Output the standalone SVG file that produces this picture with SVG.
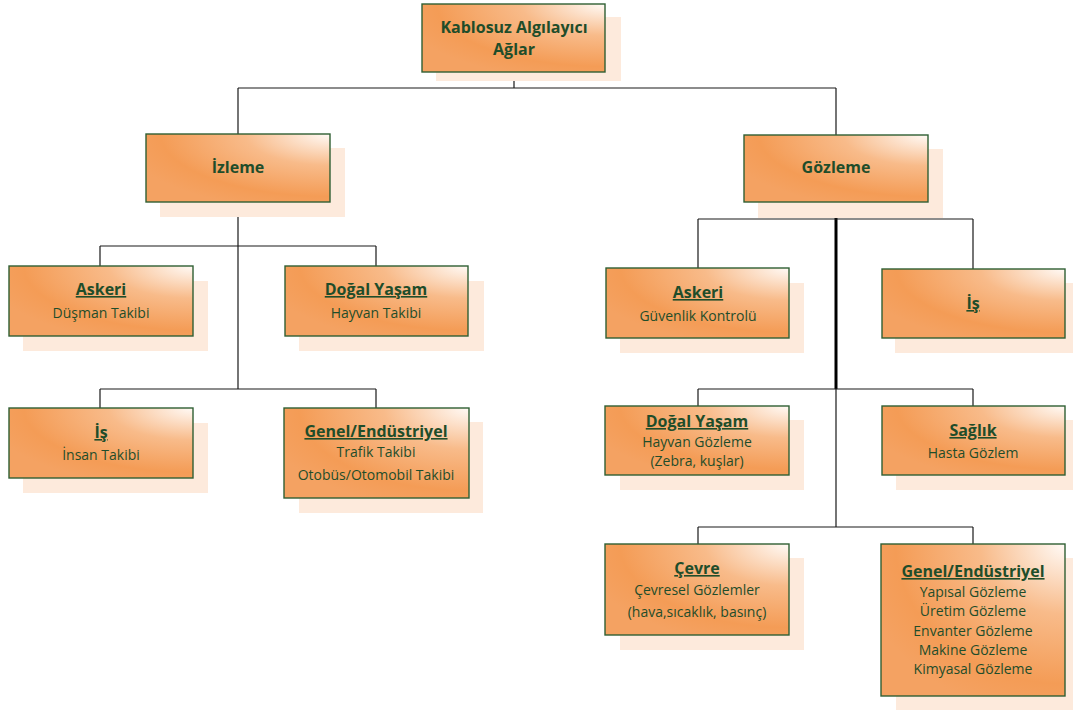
<svg xmlns="http://www.w3.org/2000/svg" width="1073" height="711" viewBox="0 0 1073 711">
  <defs>
    <radialGradient id="fill" cx="1" cy="0" r="1.15" fx="1" fy="0">
      <stop offset="0" stop-color="#fffaf6"/>
      <stop offset="0.4" stop-color="#f8bb8a"/>
      <stop offset="0.8" stop-color="#f49c56"/>
      <stop offset="1" stop-color="#f4a262"/>
    </radialGradient>
    <style>
      .shadow { fill: #fdeadc; }
      .box { fill: url(#fill); stroke: #2f5f33; stroke-width: 1.4; }
      .t { font-family: "Open Sans", "Liberation Sans", sans-serif; fill: #1f4d2a; text-anchor: middle; }
      .h { font-size: 16px; font-weight: bold; }
      .u { text-decoration: underline; }
      .s { font-size: 14px; }
      .wire { stroke: #1a1a1a; stroke-width: 1.2; fill: none; }
      .thick { stroke: #000; stroke-width: 3; fill: none; }
    </style>
  </defs>
  <rect width="1073" height="711" fill="#ffffff"/>

  <!-- connectors -->
  <g id="connectors">
    <path class="wire" d="M514,72 V88 M238,88 H836 M238,88 V134 M836,88 V135"/>
    <path class="wire" d="M238,202 V389 M100,246 H376 M100,246 V266 M376,246 V266 M100,389 H376 M100,389 V408 M376,389 V408"/>
    <path class="thick" d="M836,202 V389"/>
    <path class="wire" d="M698,219 H973 M698,219 V268 M973,219 V269"/>
    <path class="wire" d="M698,389 H973 M698,389 V406 M973,389 V406 M836,389 V527 M698,527 H973 M698,527 V544 M973,527 V544"/>
  </g>

  <g id="root">
    <rect class="shadow" x="436" y="17" width="185" height="64"/>
    <rect class="box" x="422" y="4" width="183" height="68"/>
    <text class="t h" x="514" y="33">Kablosuz Algılayıcı</text>
    <text class="t h" x="514" y="55">Ağlar</text>
  </g>

  <g id="izleme">
    <rect class="shadow" x="160" y="148" width="185" height="69"/>
    <rect class="box" x="146" y="134" width="184" height="68"/>
    <text class="t h" x="238" y="173">İzleme</text>
  </g>

  <g id="gozleme">
    <rect class="shadow" x="758" y="149" width="185" height="69"/>
    <rect class="box" x="744" y="135" width="184" height="67"/>
    <text class="t h" x="836" y="173">Gözleme</text>
  </g>

  <g id="izleme-askeri">
    <rect class="shadow" x="23" y="281" width="185" height="70"/>
    <rect class="box" x="9" y="266" width="184" height="70"/>
    <text class="t h u" x="101" y="295">Askeri</text>
    <text class="t s" x="101" y="318">Düşman Takibi</text>
  </g>

  <g id="izleme-dogal-yasam">
    <rect class="shadow" x="299" y="281" width="185" height="70"/>
    <rect class="box" x="285" y="266" width="183" height="70"/>
    <text class="t h u" x="376" y="295">Doğal Yaşam</text>
    <text class="t s" x="376" y="318">Hayvan Takibi</text>
  </g>

  <g id="izleme-is">
    <rect class="shadow" x="23" y="423" width="185" height="70"/>
    <rect class="box" x="9" y="408" width="184" height="70"/>
    <text class="t h u" x="101" y="438">İş</text>
    <text class="t s" x="101" y="460">İnsan Takibi</text>
  </g>

  <g id="izleme-genel">
    <rect class="shadow" x="299" y="422" width="184" height="91"/>
    <rect class="box" x="284" y="408" width="185" height="90"/>
    <text class="t h u" x="376" y="437">Genel/Endüstriyel</text>
    <text class="t s" x="376" y="457">Trafik Takibi</text>
    <text class="t s" x="376" y="480">Otobüs/Otomobil Takibi</text>
  </g>

  <g id="gozleme-askeri">
    <rect class="shadow" x="620" y="283" width="184" height="70"/>
    <rect class="box" x="606" y="268" width="183" height="70"/>
    <text class="t h u" x="698" y="298">Askeri</text>
    <text class="t s" x="698" y="321">Güvenlik Kontrolü</text>
  </g>

  <g id="gozleme-is">
    <rect class="shadow" x="895" y="283" width="178" height="70"/>
    <rect class="box" x="882" y="269" width="183" height="69"/>
    <text class="t h u" x="973" y="309">İş</text>
  </g>

  <g id="gozleme-dogal-yasam">
    <rect class="shadow" x="620" y="420" width="184" height="70"/>
    <rect class="box" x="605" y="406" width="184" height="69"/>
    <text class="t h u" x="697" y="427">Doğal Yaşam</text>
    <text class="t s" x="697" y="447">Hayvan Gözleme</text>
    <text class="t s" x="697" y="466">(Zebra, kuşlar)</text>
  </g>

  <g id="gozleme-saglik">
    <rect class="shadow" x="896" y="420" width="177" height="70"/>
    <rect class="box" x="882" y="406" width="183" height="69"/>
    <text class="t h u" x="973" y="436">Sağlık</text>
    <text class="t s" x="973" y="458">Hasta Gözlem</text>
  </g>

  <g id="gozleme-cevre">
    <rect class="shadow" x="620" y="558" width="184" height="92"/>
    <rect class="box" x="605" y="544" width="184" height="91"/>
    <text class="t h u" x="697" y="574">Çevre</text>
    <text class="t s" x="697" y="595">Çevresel Gözlemler</text>
    <text class="t s" x="697" y="617">(hava,sıcaklık, basınç)</text>
  </g>

  <g id="gozleme-genel">
    <rect class="shadow" x="896" y="558" width="177" height="152"/>
    <rect class="box" x="881" y="544" width="184" height="152"/>
    <text class="t h u" x="973" y="577">Genel/Endüstriyel</text>
    <text class="t s" x="973" y="597">Yapısal Gözleme</text>
    <text class="t s" x="973" y="616">Üretim Gözleme</text>
    <text class="t s" x="973" y="636">Envanter Gözleme</text>
    <text class="t s" x="973" y="655">Makine Gözleme</text>
    <text class="t s" x="973" y="674">Kimyasal Gözleme</text>
  </g>
</svg>
